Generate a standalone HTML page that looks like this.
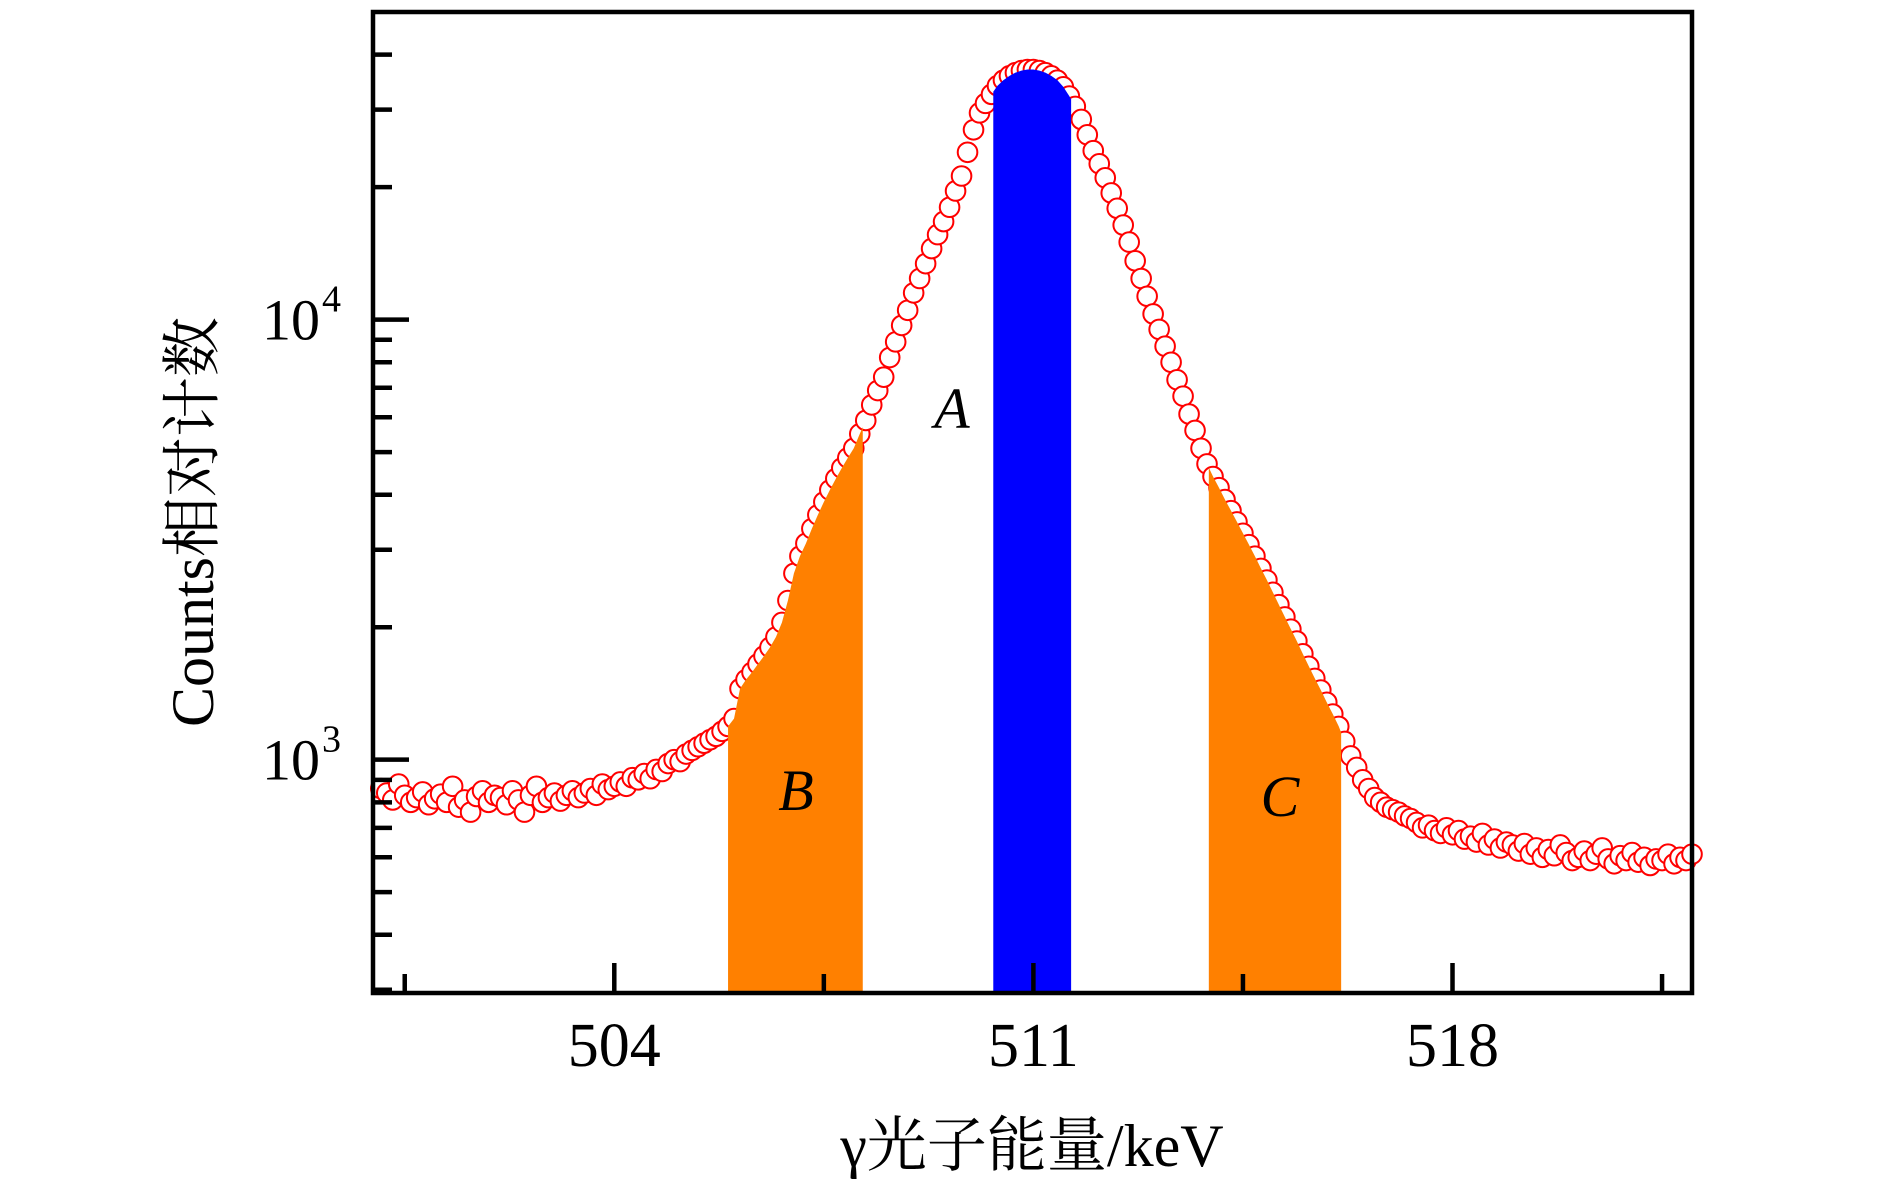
<!DOCTYPE html>
<html><head><meta charset="utf-8"><style>
html,body{margin:0;padding:0;background:#fff;}
svg{display:block;}
text{font-family:"Liberation Serif","Noto Serif CJK SC",serif;fill:#000;}
</style></head><body>
<svg id="chart" width="1890" height="1182" viewBox="0 0 1890 1182" xmlns="http://www.w3.org/2000/svg">
<g id="points"></g>
<g id="shades"></g>
<g id="axes"></g>
<g id="labels">
<text x="952" y="428" font-size="58" font-style="italic" text-anchor="middle">A</text>
<text x="796" y="810" font-size="58" font-style="italic" text-anchor="middle">B</text>
<text x="1280" y="816" font-size="58" font-style="italic" text-anchor="middle">C</text>
<text x="1032" y="1166" font-size="60" text-anchor="middle">γ光子能量/keV</text>
<text transform="translate(213,522) rotate(-90)" font-size="60" text-anchor="middle">Counts相对计数</text>
</g>
</svg>
<script>
const startEnergy = 500.1;
const energyStep = 0.1;
const counts = [
860,840,810,880,830,800,820,845,790,815,
835,800,870,780,810,760,825,850,800,830,
820,790,850,810,760,830,870,800,820,840,
805,830,850,820,840,860,830,880,855,870,
890,870,910,900,930,905,950,940,980,1000,
990,1030,1050,1070,1090,1110,1130,1160,1190,1240,
1450,1520,1580,1650,1720,1800,1900,2050,2300,2650,
2900,3100,3350,3600,3850,4100,4350,4600,4850,5100,
5500,5900,6400,6900,7400,8200,8900,9700,10500,11500,
12400,13400,14500,15600,16700,18000,19600,21200,24000,27000,
29500,31000,32500,34000,35000,35800,36400,36800,37000,37000,
36800,36400,35800,35000,33800,32200,30500,28500,26300,24200,
22600,21000,19400,17900,16400,15000,13600,12400,11300,10300,
9500,8700,8000,7300,6700,6100,5600,5100,4700,4400,
4150,3900,3680,3470,3270,3080,2900,2720,2560,2400,
2250,2110,1980,1860,1740,1630,1530,1440,1350,1270,
1190,1100,1020,960,900,860,820,800,780,770,
760,745,735,720,700,710,690,680,700,675,
690,660,670,650,680,640,660,630,650,640,
620,645,610,630,600,625,605,640,615,590,
600,620,590,610,630,595,580,605,590,615,
585,600,575,595,590,610,580,600,590,610];
const regionNames = ["B","A","C"];
const regionStart = [505.9, 510.33, 513.93];
const regionEnd = [508.15, 511.63, 516.14];
const regionColors = ["#ff8000","#0000ff","#ff8000"];
const xTickValues = [504, 511, 518];
const xMinorTicks = [500.5, 507.5, 514.5, 521.5];
const yMajorTicks = [1000, 10000];
const yMinorTicks = [300,400,500,600,700,800,900,2000,3000,4000,5000,6000,7000,8000,9000,20000,30000,40000];

const L=373,R=1692,T=12,B=993;
const xMin=499.97,xMax=522.0,yMin=Math.log10(295),yMax=Math.log10(50000);
function xs(e){return L+(e-xMin)/(xMax-xMin)*(R-L);}
function ys(v){return B-(Math.log10(v)-yMin)/(yMax-yMin)*(B-T);}
const NS="http://www.w3.org/2000/svg";
function mk(tag,attrs,parent){const el=document.createElementNS(NS,tag);for(const k in attrs)el.setAttribute(k,attrs[k]);parent.appendChild(el);return el;}
function valAt(e){const i=(e-startEnergy)/energyStep;const i0=Math.max(0,Math.min(counts.length-1,Math.floor(i)));const i1=Math.min(counts.length-1,i0+1);const f=Math.max(0,Math.min(1,i-i0));return Math.pow(10,Math.log10(counts[i0])*(1-f)+Math.log10(counts[i1])*f);}

const pg=document.getElementById('points');
counts.forEach((c,i)=>{
  const e=startEnergy+i*energyStep;
  const cl=mk('circle',{cx:xs(e),cy:ys(c),r:9.8,fill:'#fff',stroke:'#ff0000','stroke-width':2},pg);
  
  
});

const shades=document.getElementById('shades');
regionNames.forEach((n,k)=>{
  let pts=[[xs(regionStart[k]),B]];
  pts.push([xs(regionStart[k]),ys(valAt(regionStart[k]))]);
  counts.forEach((c,i)=>{const e=startEnergy+i*energyStep;if(e>regionStart[k]&&e<regionEnd[k])pts.push([xs(e),ys(c)]);});
  pts.push([xs(regionEnd[k]),ys(valAt(regionEnd[k]))]);
  pts.push([xs(regionEnd[k]),B]);
  const p=mk('polygon',{points:pts.map(p=>p.join(',')).join(' '),fill:regionColors[k]},shades);
  
  
});

const ax=document.getElementById('axes');
const frame=mk('rect',{x:L,y:T,width:R-L,height:B-T,fill:'none',stroke:'#000','stroke-width':4.5},ax);


xTickValues.forEach(v=>{
  const x=xs(v);
  mk('line',{x1:x,x2:x,y1:B,y2:B-30,stroke:'#000','stroke-width':4.5},ax);
  const t=mk('text',{x:x,y:1066,'font-size':62,'text-anchor':'middle'},ax);t.textContent=v;
  
  
});
xMinorTicks.forEach(v=>{const x=xs(v);mk('line',{x1:x,x2:x,y1:B,y2:B-19,stroke:'#000','stroke-width':4.5},ax);});
yMajorTicks.forEach(v=>{
  const y=ys(v);
  mk('line',{x1:L,x2:L+36,y1:y,y2:y,stroke:'#000','stroke-width':4.5},ax);
  const t=mk('text',{x:320,y:y+20,'font-size':58,'text-anchor':'end'},ax);
  t.textContent='10';
  
  
  const s=mk('text',{x:322,y:y-8,'font-size':38},ax);s.textContent=String(Math.round(Math.log10(v)));
  
  
});
yMinorTicks.forEach(v=>{const y=ys(v);if(y<B-3)mk('line',{x1:L,x2:L+19,y1:y,y2:y,stroke:'#000','stroke-width':4.5},ax);});
</script>
</body></html>
